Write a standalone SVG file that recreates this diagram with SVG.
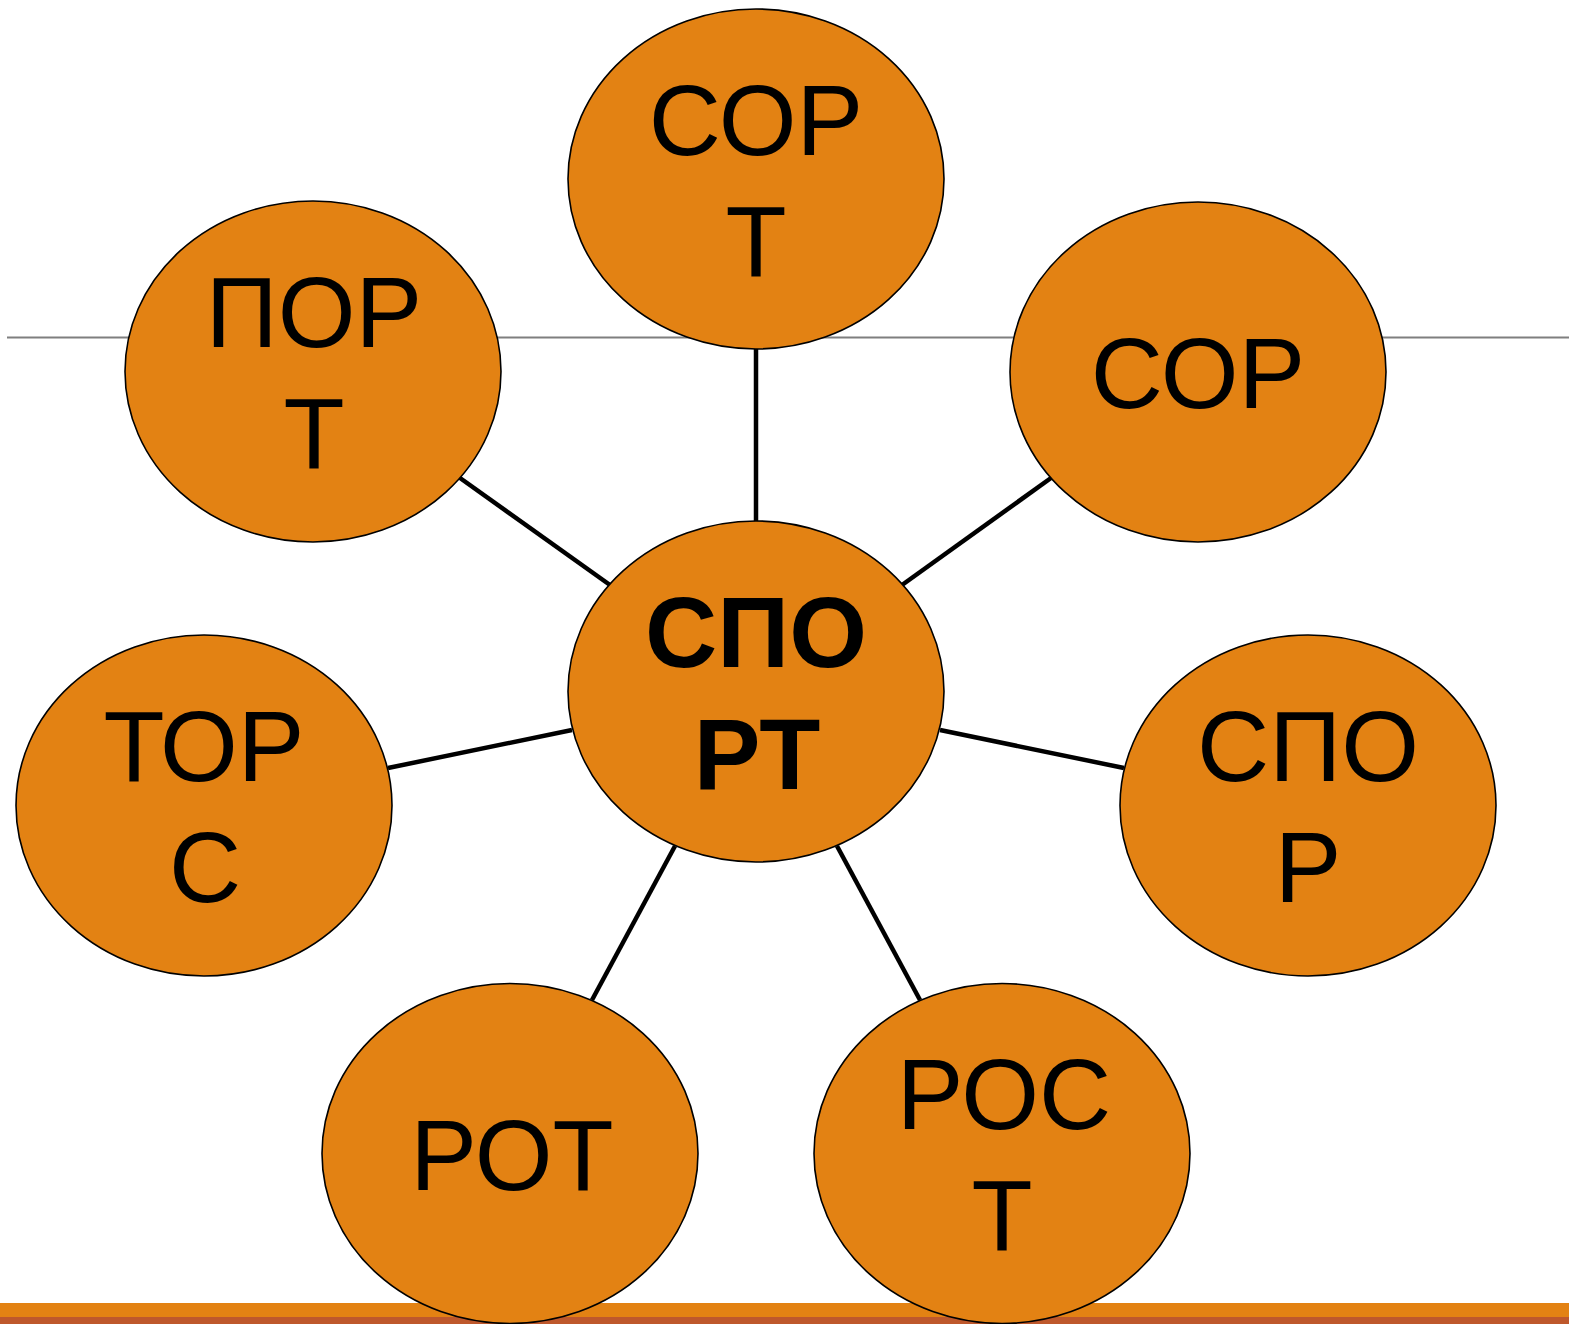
<svg xmlns="http://www.w3.org/2000/svg" width="1569" height="1324" viewBox="0 0 1569 1324">
<style>
.n{fill:#E38213;stroke:#000;stroke-width:1.6}
.t{font-family:"Liberation Sans",Arial,sans-serif;font-size:100px;fill:#000;text-anchor:middle}
.b{font-weight:bold}
.c{stroke:#000;stroke-width:4.5;fill:none}
</style>
<rect x="0" y="0" width="1569" height="1324" fill="#fff"/>
<line x1="7" y1="337.5" x2="1569" y2="337.5" stroke="#7f7f7f" stroke-width="1.8"/>
<rect x="0" y="1303" width="1569" height="14" fill="#E38213"/>
<rect x="0" y="1317" width="1569" height="7" fill="#BE582C"/>
<g id="connectors">
<line class="c" x1="756" y1="349" x2="756" y2="522"/>
<line class="c" x1="460" y1="478" x2="610" y2="585"/>
<line class="c" x1="1051" y1="478" x2="902" y2="585"/>
<line class="c" x1="388" y1="768" x2="572" y2="730"/>
<line class="c" x1="940" y1="730" x2="1124" y2="768"/>
<line class="c" x1="592" y1="1000" x2="675" y2="846"/>
<line class="c" x1="920" y1="1000" x2="837" y2="846"/>
</g>
<g id="sort">
<ellipse class="n" cx="756" cy="179" rx="188" ry="170"/>
<text class="t" x="756" y="155">СОР</text>
<text class="t" x="756" y="276">Т</text>
</g>
<g id="port">
<ellipse class="n" cx="313" cy="371.5" rx="188" ry="170.5"/>
<text class="t" x="314" y="347">ПОР</text>
<text class="t" x="314" y="468">Т</text>
</g>
<g id="sor">
<ellipse class="n" cx="1198" cy="372" rx="188" ry="170"/>
<text class="t" x="1198" y="408">СОР</text>
</g>
<g id="sport">
<ellipse class="n" cx="756" cy="691.5" rx="188" ry="170.5"/>
<text class="t b" x="756" y="667">СПО</text>
<text class="t b" x="757" y="789">РТ</text>
</g>
<g id="tors">
<ellipse class="n" cx="204" cy="805.5" rx="188" ry="170.5"/>
<text class="t" x="204" y="781">ТОР</text>
<text class="t" x="205" y="902">С</text>
</g>
<g id="spor">
<ellipse class="n" cx="1308" cy="805.5" rx="188" ry="170.5"/>
<text class="t" x="1308" y="781">СПО</text>
<text class="t" x="1308" y="902">Р</text>
</g>
<g id="rot">
<ellipse class="n" cx="510" cy="1153.5" rx="188" ry="170"/>
<text class="t" x="512" y="1190">РОТ</text>
</g>
<g id="rost">
<ellipse class="n" cx="1002" cy="1153.5" rx="188" ry="170"/>
<text class="t" x="1004" y="1129">РОС</text>
<text class="t" x="1002" y="1250">Т</text>
</g>
</svg>
